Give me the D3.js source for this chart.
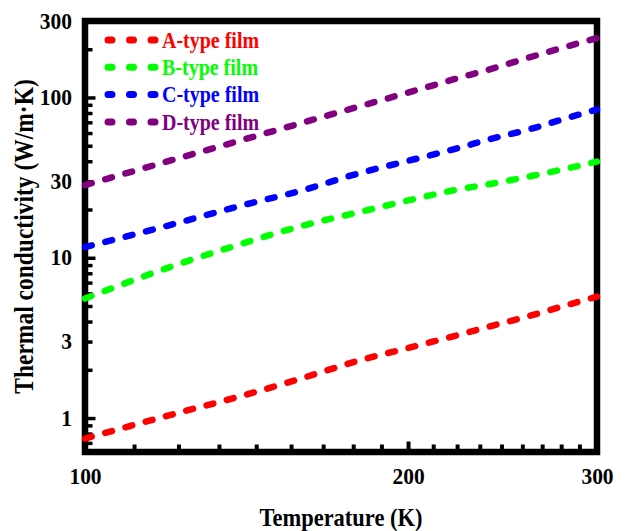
<!DOCTYPE html>
<html>
<head>
<meta charset="utf-8">
<script src="https://cdn.jsdelivr.net/npm/d3@7"></script>
<style>
  html, body { margin: 0; padding: 0; background: #ffffff; }
  svg { display: block; }
  text { font-family: "Liberation Serif", "Times New Roman", serif; font-weight: bold; }
</style>
</head>
<body>
<svg id="chart" width="625" height="531"></svg>
<script>
// ---- data ----
const temperatures = [100, 120, 140, 160, 180, 200, 220, 240, 260, 280, 300];
const seriesA = [0.745, 1.044, 1.375, 1.789, 2.284, 2.733, 3.224, 3.776, 4.353, 5.025, 5.728];
const seriesB = [5.57, 8.75, 12.24, 15.93, 19.25, 22.78, 26.26, 29.08, 32.24, 35.81, 39.83];
const seriesC = [11.66, 16.0, 21.2, 26.52, 33.66, 40.23, 47.32, 55.57, 63.53, 73.76, 84.06];
const seriesD = [28.41, 40.34, 54.24, 70.04, 87.87, 107.3, 129.1, 151.9, 178.6, 206.3, 234.8];
const seriesNames = ["A-type film", "B-type film", "C-type film", "D-type film"];
const seriesColors = ["#ff0000", "#00ff00", "#0000ff", "#800080"];

const xLabelTicks = [100, 200, 300];
const xMinorTicks = [111.1, 122.2, 133.3, 144.4, 155.6, 166.7, 177.8, 188.9,
                     211.1, 222.2, 233.3, 244.4, 255.6, 266.7, 277.8, 288.9];
const xMajorTicks = [200];
const yLabelTicks = [1, 3, 10, 30, 100, 300];
const yMajorTicks = [1, 10, 100];
const yMinorTicks = [0.7, 0.8, 0.9, 2, 3, 4, 5, 6, 7, 8, 9, 20, 30, 40, 50, 60, 70, 80, 90, 200];
const xTitle = "Temperature (K)";
const yTitle = "Thermal conductivity (W/m\u00B7K)";

// ---- layout ----
const pLeft = 85, pRight = 597, pTop = 21, pBottom = 452;
const stretch = 1.12; // reference glyphs are slightly taller than wide
const svg = d3.select("#chart");

const x = d3.scaleLog().domain([100, 300]).range([pLeft, pRight]);
const y = d3.scaleLog().domain([0.614, 300]).range([pBottom, pTop]);

// frame
svg.append("rect")
  .attr("x", pLeft).attr("y", pTop)
  .attr("width", pRight - pLeft).attr("height", pBottom - pTop)
  .attr("fill", "none").attr("stroke", "#000").attr("stroke-width", 6.5);

function styleTicks(g, w) {
  g.select(".domain").remove();
  g.selectAll(".tick line").attr("stroke", "#000").attr("stroke-width", w);
}

// y ticks (inward)
svg.append("g").attr("transform", `translate(${pLeft},0)`)
  .call(d3.axisRight(y).tickValues(yMinorTicks).tickSize(7.5).tickFormat(""))
  .call(g => styleTicks(g, 3.5));
svg.append("g").attr("transform", `translate(${pLeft},0)`)
  .call(d3.axisRight(y).tickValues(yMajorTicks).tickSize(10.5).tickFormat(""))
  .call(g => styleTicks(g, 3.5));
// y labels
svg.append("g").attr("transform", `translate(${pLeft},0)`)
  .call(d3.axisLeft(y).tickValues(yLabelTicks).tickSize(0).tickPadding(13).tickFormat(d3.format("d")))
  .call(g => {
    g.select(".domain").remove();
    g.selectAll("text").attr("font-size", 21.5).attr("fill", "#000")
      .attr("font-family", "Liberation Serif").attr("font-weight", "bold")
      .attr("dy", "0.3em")
      .attr("transform", `scale(1,${stretch})`);
  });

// x ticks (inward)
svg.append("g").attr("transform", `translate(0,${pBottom})`)
  .call(d3.axisTop(x).tickValues(xMinorTicks).tickSize(7.5).tickFormat(""))
  .call(g => styleTicks(g, 4));
svg.append("g").attr("transform", `translate(0,${pBottom})`)
  .call(d3.axisTop(x).tickValues(xMajorTicks).tickSize(10.5).tickFormat(""))
  .call(g => styleTicks(g, 4));
// x labels
svg.append("g").attr("transform", `translate(0,${pBottom})`)
  .call(d3.axisBottom(x).tickValues(xLabelTicks).tickSize(0).tickPadding(13.5).tickFormat(d3.format("d")))
  .call(g => {
    g.select(".domain").remove();
    g.selectAll("text").attr("font-size", 21.5).attr("fill", "#000")
      .attr("font-family", "Liberation Serif").attr("font-weight", "bold")
      .attr("transform", `scale(1,${stretch})`);
  });

// axis titles
svg.append("text")
  .attr("transform", `translate(${(pLeft + pRight) / 2},526) scale(1,${stretch})`)
  .attr("text-anchor", "middle").attr("font-size", 22.5).attr("fill", "#000")
  .text(xTitle);
svg.append("text")
  .attr("transform", `translate(33,${(pTop + pBottom) / 2}) rotate(-90) scale(1,${stretch})`)
  .attr("text-anchor", "middle").attr("font-size", 23.5).attr("fill", "#000")
  .text(yTitle);

// curves
const allSeries = [seriesA, seriesB, seriesC, seriesD];
const line = d3.line()
  .x(d => x(d[0]))
  .y(d => y(d[1]))
  .curve(d3.curveMonotoneX);

allSeries.forEach((vals, i) => {
  svg.append("path")
    .datum(temperatures.map((t, j) => [t, vals[j]]))
    .attr("d", line)
    .attr("fill", "none")
    .attr("stroke", seriesColors[i])
    .attr("stroke-width", 6.5)
    .attr("stroke-linecap", "round")
    .attr("stroke-dasharray", "7,14");
});

// legend
const legendY0 = 40, legendDy = 27.3;
seriesNames.forEach((name, i) => {
  const ly = legendY0 + i * legendDy;
  svg.append("line")
    .attr("x1", 108).attr("x2", 156).attr("y1", ly).attr("y2", ly)
    .attr("stroke", seriesColors[i]).attr("stroke-width", 7)
    .attr("stroke-linecap", "round").attr("stroke-dasharray", "4,17.5");
  svg.append("text")
    .attr("transform", `translate(162,${ly}) scale(1,${stretch})`)
    .attr("dy", "0.35em")
    .attr("font-size", 20).attr("fill", seriesColors[i])
    .text(name);
});
</script>
</body>
</html>
